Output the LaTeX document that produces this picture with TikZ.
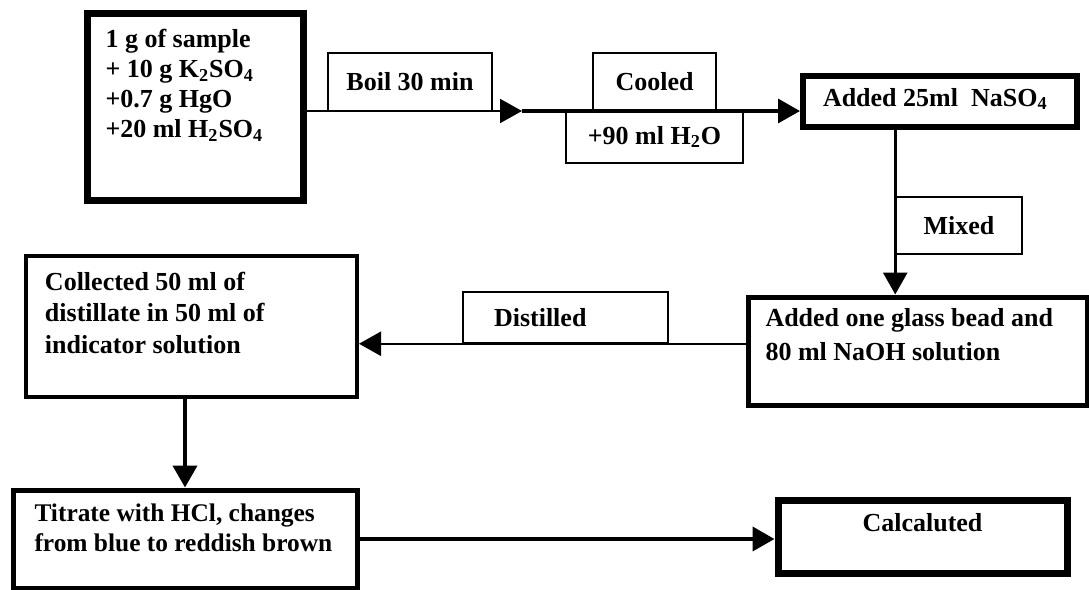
\documentclass[tikz,border=0pt]{standalone}
\usepackage{fontspec}
\setmainfont{Liberation Serif}
\usetikzlibrary{positioning,arrows.meta}

\begin{document}
\begin{tikzpicture}[x=0.5pt, y=-0.5pt,
        >={Triangle[length=11pt, width=12pt]},
        stepbox/.style={draw, anchor=north west, align=flush left, inner ysep=0pt, font=\bfseries\fontsize{13}{15}\selectfont},
        tagbox/.style={draw, line width=0.75pt, inner sep=0pt, align=center, font=\bfseries\fontsize{13}{15}\selectfont}
    ]
        \useasboundingbox (0,0) rectangle (1089,590);

        \node[stepbox, line width=3.5pt, inner xsep=9.25pt, text width=89.5pt, text height=17.25pt, text depth=76.25pt] (smp) at (83.5,9.5)
            {1 g of sample\\+ 10 g K\textsubscript{2}SO\textsubscript{4}\\+0.7 g HgO\\+20 ml H\textsubscript{2}SO\textsubscript{4}};
        \node[stepbox, line width=3pt, inner xsep=10pt, text width=117pt, text height=15pt, text depth=10.5pt] (nas) at (800,73)
            {Added 25ml~ NaSO\textsubscript{4}};
        \node[stepbox, line width=2.5pt, inner xsep=8.75pt, text width=152pt, text height=14.75pt, text depth=39.25pt, font=\bfseries\fontsize{13}{17}\selectfont] (bead) at (745.5,294.5)
            {Added one glass bead and\\80 ml NaOH solution};
        \node[stepbox, line width=2pt, inner xsep=9.5pt, text width=146.5pt, text height=17pt, text depth=53.5pt, font=\bfseries\fontsize{13}{15.75}\selectfont] (col) at (24,254)
            {Collected 50 ml of\\distillate in 50 ml of\\indicator solution};
        \node[stepbox, line width=2.5pt, inner xsep=10.75pt, text width=150.5pt, text height=15.75pt, text depth=33.25pt, font=\bfseries\fontsize{12.7}{15}\selectfont] (tit) at (10.5,487.5)
            {Titrate with HCl, changes\\from blue to reddish brown};
        \node[stepbox, line width=3.5pt, inner xsep=0pt, text width=144.5pt, text height=15.75pt, text depth=20.75pt, align=center] (calc) at (774.5,496.5)
            {Calcaluted};

        \node[tagbox, minimum width=82pt, minimum height=29pt] (boil) at (410,82) {Boil 30 min};
        \node[tagbox, minimum width=61.5pt, minimum height=29pt] (cool) at (654.5,82) {Cooled};
        \node[tagbox, minimum width=88.5pt, minimum height=26pt] (wat) at (654.5,137) {+90 ml H\textsubscript{2}O};
        \node[tagbox, minimum width=63pt, minimum height=28.5pt] (mix) at (959,225.5) {Mixed};
        \node[tagbox, minimum height=25.5pt, inner xsep=15.5pt, text width=71.5pt, align=flush left] (dist) at (565.5,317.5) {Distilled};

        \coordinate (jn) at (522,111);
        \draw[->, line width=1pt] (smp.east |- jn) -- (jn);
        \draw[->, line width=1.75pt] (jn) -- (jn -| nas.west);
        \draw[->, line width=1.5pt] (nas.south -| mix.west) -- (bead.north -| mix.west);
        \draw[->, line width=1.25pt] (bead.west |- dist.south) -- (col.east |- dist.south);
        \draw[->, line width=2pt] (col.south -| tit.north) -- (tit.north);
        \draw[->, line width=2pt] (tit.east) -- (tit.east -| calc.west);
    \end{tikzpicture}
\end{document}
